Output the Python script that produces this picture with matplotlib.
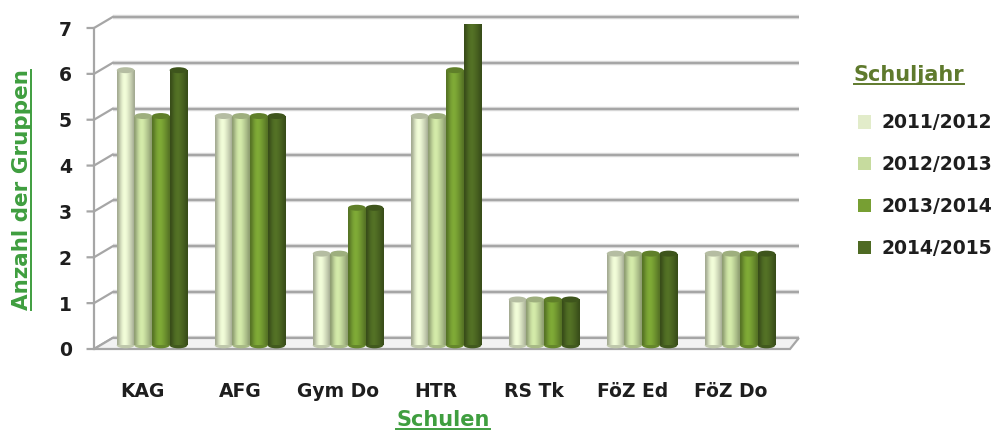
import matplotlib
matplotlib.use("Agg")
import matplotlib.pyplot as plt
import numpy as np
from matplotlib.patches import Polygon, Ellipse, Rectangle
from matplotlib.lines import Line2D

# DATA
schools = ["KAG", "AFG", "Gym Do", "HTR", "RS Tk", "FöZ Ed", "FöZ Do"]
years = ["2011/2012", "2012/2013", "2013/2014", "2014/2015"]
groups_2011 = [6, 5, 2, 5, 1, 2, 2]
groups_2012 = [5, 5, 2, 5, 1, 2, 2]
groups_2013 = [5, 5, 3, 6, 1, 2, 2]
groups_2014 = [6, 5, 3, 7, 1, 2, 2]
series = [groups_2011, groups_2012, groups_2013, groups_2014]
colors = ["#e2ecca", "#c6db9e", "#779f33", "#4e6a23"]

plt.rcParams["font.family"] = ["DejaVu Sans"]

W, H = 997, 432
fig = plt.figure(figsize=(W / 100, H / 100), dpi=100)
# front axis: x 94..790 px, y 0 at 349 px, 7 at 28 px
ax = fig.add_axes([94 / W, (H - 349) / H, 696 / W, 321 / H])
xmin, xmax = -0.592, 6.51
ax.set_xlim(xmin, xmax)
ax.set_ylim(0, 7)
for s in ax.spines.values():
    s.set_visible(False)

# back wall offset (3D look)
dx, dy = 0.19, 0.24
grid_col = "#a6a6a6"
for v in range(0, 8):
    ax.plot([xmin + dx, xmax + 0.09], [v + dy, v + dy], color="#dcdcdc", lw=3.2,
            solid_capstyle="butt", zorder=1, clip_on=False)
    ax.plot([xmin + dx, xmax + 0.09], [v + dy, v + dy], color=grid_col, lw=1.6,
            solid_capstyle="butt", zorder=1.1, clip_on=False)
    ax.plot([xmin - 0.065, xmin, xmin + dx], [v, v, v + dy], color=grid_col, lw=1.6,
            zorder=1.1, clip_on=False)
ax.plot([xmin, xmin], [0, 7], color=grid_col, lw=1.6, zorder=1.1, clip_on=False)

# floor
floor = Polygon([(xmin, 0), (xmax, 0), (xmax + 0.09, dy), (xmin + dx, dy)],
                closed=True, facecolor="#f2f2f2", edgecolor=grid_col, lw=1.6,
                zorder=1.2, clip_on=False)
ax.add_patch(floor)

# cylinder bars
bw = 0.18
base = 0.08
shade = np.array([0.72, 0.85, 0.98, 1.06, 1.08, 1.04, 0.97, 0.9, 0.82, 0.72])
x = np.arange(len(schools))
handles = []
for k, (vals, col) in enumerate(zip(series, colors)):
    rgb = np.array(matplotlib.colors.to_rgb(col))
    grad = np.clip(shade[:, None] * rgb[None, :], 0, 1)[None, :, :]
    offs = (k - 1.5) * bw
    bars = ax.bar(x + offs, vals, width=bw, bottom=base, color=col,
                  edgecolor="none", zorder=3)
    handles.append(Rectangle((0, 0), 1, 1, facecolor=col, edgecolor="none"))
    for b in bars:
        x0, w, h = b.get_x(), b.get_width(), b.get_height()
        im = ax.imshow(grad, extent=[x0, x0 + w, base, base + h], aspect="auto",
                       interpolation="bicubic", zorder=3.1)
        im.set_clip_path(b)
        cap = Ellipse((x0 + w / 2, base + h), w, 0.13,
                      facecolor=tuple(np.clip(rgb * 0.8, 0, 1)),
                      edgecolor="none", zorder=3.2)
        ax.add_patch(cap)
        bot = Ellipse((x0 + w / 2, base), w, 0.13,
                      facecolor=tuple(np.clip(rgb * 0.85, 0, 1)),
                      edgecolor="none", zorder=2.9)
        ax.add_patch(bot)
ax.set_xlim(xmin, xmax)
ax.set_ylim(0, 7)

# ticks
ax.set_xticks(x - 0.1)
ax.set_xticklabels(schools, fontsize=13.5, fontweight="bold", color="#1e1e1e")
ax.set_yticks(range(0, 8))
ax.set_yticklabels([str(v) for v in range(0, 8)], fontsize=13.5, fontweight="bold",
                   color="#1e1e1e")
ax.tick_params(axis="x", length=0, pad=24)
ax.tick_params(axis="y", length=0, pad=16)

# axis titles (green, underlined)
green = "#3f9e3f"
olive = "#5f7a2d"
t_x = fig.text(443 / W, 1 - 420 / H, "Schulen", ha="center", va="center",
               fontsize=15, fontweight="bold", color=green)
t_y = fig.text(22 / W, 1 - 190 / H, "Anzahl der Gruppen", ha="center", va="center",
               rotation=90, fontsize=15.5, fontweight="bold", color=green)
t_l = fig.text(909 / W, 1 - 75 / H, "Schuljahr", ha="center", va="center",
               fontsize=15, fontweight="bold", color=olive)

leg = fig.legend(handles, years, loc="upper left",
                 bbox_to_anchor=(850 / W, 1 - 106 / H), frameon=False,
                 prop={"size": 13.5, "weight": "bold"}, handlelength=0.7,
                 handleheight=0.7, handletextpad=0.6, labelspacing=1.22,
                 borderaxespad=0)
for t in leg.get_texts():
    t.set_color("#1e1e1e")

fig.canvas.draw()
for t, col in [(t_x, green), (t_l, olive)]:
    bb = t.get_window_extent()
    yy = (bb.y0 + 1) / H
    fig.add_artist(Line2D([bb.x0 / W, bb.x1 / W], [yy, yy], color=col, lw=1.4,
                          transform=fig.transFigure))
bb = t_y.get_window_extent()
xx = (bb.x1 - 1) / W
fig.add_artist(Line2D([xx, xx], [bb.y0 / H, bb.y1 / H], color=green, lw=1.4,
                      transform=fig.transFigure))

fig.savefig("out.png", dpi=100)
